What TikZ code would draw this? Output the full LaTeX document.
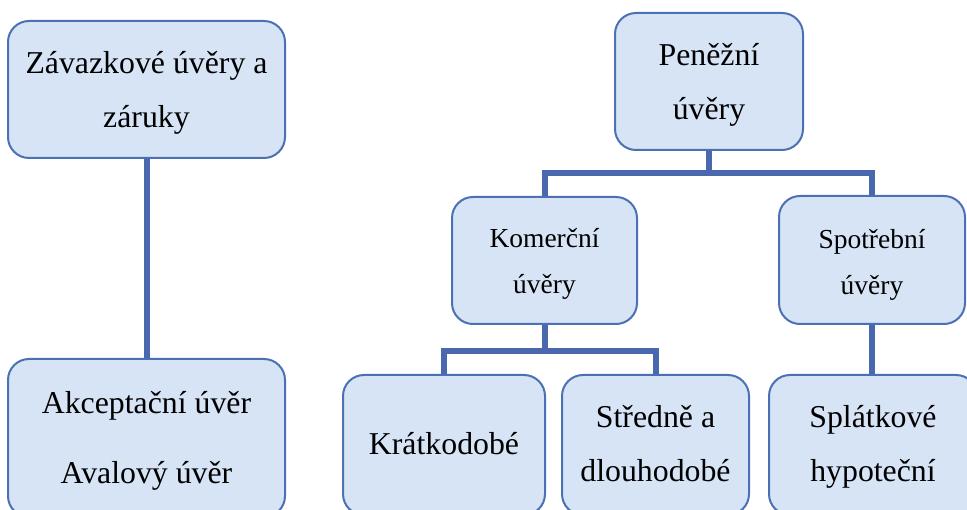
\documentclass[tikz,border=0pt]{standalone}
\usepackage{fontspec}
\setmainfont{Liberation Serif}
\definecolor{boxfill}{RGB}{214,228,245}
\definecolor{boxline}{RGB}{76,112,180}
\definecolor{connline}{RGB}{74,104,174}
\tikzset{
  box/.style={draw=boxline, fill=boxfill, line width=2pt, rounded corners=21pt, inner sep=0pt},
  txt/.style={anchor=base, align=center, inner sep=0pt, text=black},
  big/.style={font=\fontsize{31.8}{54}\selectfont},
  small/.style={font=\fontsize{27.5}{46}\selectfont},
  bottomtxt/.style={font=\fontsize{31.8}{70}\selectfont},
  conn/.style={draw=connline, line width=6pt, line join=miter}
}
\begin{document}
\begin{tikzpicture}[x=1pt,y=-1pt]
\useasboundingbox (0,0) rectangle (967,510);
\clip (0,0) rectangle (967,510);
% boxes
\node[box, minimum width=277pt, minimum height=137pt] (zav) at (146.5,89.5) {};
\node[box, minimum width=277pt, minimum height=158pt] (akc) at (146.5,438) {};
\node[box, minimum width=188pt, minimum height=137pt] (pen) at (709,81.5) {};
\node[box, minimum width=185pt, minimum height=127pt] (kom) at (544.5,260.5) {};
\node[box, minimum width=186pt, minimum height=128pt] (spo) at (872,260) {};
\node[box, minimum width=202pt, minimum height=140pt] (kra) at (444,445) {};
\node[box, minimum width=187pt, minimum height=140pt] (str) at (655.5,445) {};
\node[box, minimum width=208pt, minimum height=140pt] (spl) at (873,445) {};
% connectors
\coordinate (j1) at (709,173);
\coordinate (j2) at (544.5,351);
\draw[conn] (zav.south) -- (akc.north);
\draw[conn] (pen.south) -- (j1);
\draw[conn] (kom.north) |- (j1) -| (spo.north);
\draw[conn] (kom.south) -- (j2);
\draw[conn] (kra.north) |- (j2) -| (str.north);
\draw[conn] (spo.south) -- (spo.south |- spl.north);
% texts (anchor = baseline of last line)
\node[txt, big] (zavt) at (146.5,128) {Závazkové úvěry a\\záruky};
\node[txt, bottomtxt] (akct) at (146.5,483) {Akceptační úvěr\\Avalový úvěr};
\node[txt, big] (pent) at (709,120) {Peněžní\\úvěry};
\node[txt, small] (komt) at (544.5,294) {Komerční\\úvěry};
\node[txt, small] (spot) at (872,295) {Spotřební\\úvěry};
\node[txt, big] (krat) at (444,455) {Krátkodobé};
\node[txt, big] (strt) at (655.5,482) {Středně a\\dlouhodobé};
\node[txt, big] (splt) at (873,482) {Splátkové\\hypoteční};
\end{tikzpicture}
\end{document}
